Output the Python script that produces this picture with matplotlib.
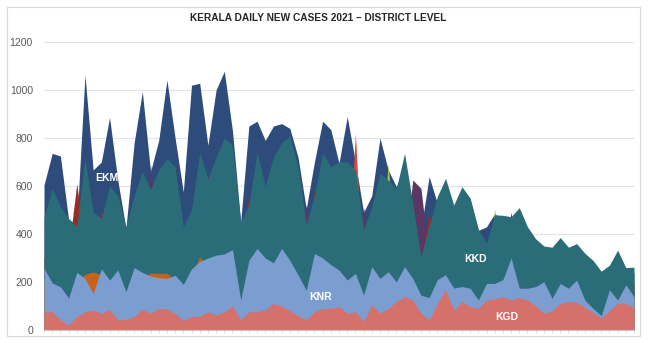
import matplotlib.pyplot as plt
from matplotlib.patches import Rectangle
import numpy as np

OUTPUT_FILE = "out.png"

TITLE = "KERALA DAILY NEW CASES 2021 \u2013 DISTRICT LEVEL"
Y_TICKS = [0, 200, 400, 600, 800, 1000, 1200]

# daily values (73 days), back series first
EKM = [604, 736, 725, 460, 440, 1062, 667, 700, 886, 625, 424, 780, 993, 660, 790, 1042, 800, 575,
       1020, 1028, 770, 1000, 1078, 830, 450, 850, 870, 790, 850, 860, 840, 720, 505, 700, 870, 835,
       695, 889, 700, 490, 560, 800, 667, 597, 690, 500, 420, 639, 528, 600, 515, 590, 545, 415,
       430, 485, 450, 440, 480, 400, 350, 320, 330, 320, 330, 340, 300, 270, 230, 250, 310, 240, 240]
PURPLE = [250, 260, 240, 230, 250, 280, 260, 250, 270, 260, 240, 280, 300, 690, 300, 320, 310, 290,
          300, 330, 320, 310, 330, 340, 300, 320, 330, 310, 320, 330, 320, 300, 520, 330, 340, 320,
          330, 340, 310, 510, 300, 320, 310, 300, 320, 625, 590, 300, 280, 290, 270, 280, 260, 250,
          240, 250, 240, 230, 240, 220, 210, 200, 200, 190, 200, 190, 180, 170, 150, 160, 170, 150, 150]
DARK_RED = [300, 320, 310, 330, 610, 340, 330, 500, 340, 330, 320, 350, 360, 340, 350, 360, 370, 340,
            350, 380, 640, 380, 390, 370, 330, 560, 380, 370, 360, 380, 390, 370, 340, 580, 380, 370,
            360, 380, 340, 360, 370, 350, 340, 360, 350, 290, 280, 490, 330, 320, 310, 320, 300, 290,
            280, 290, 300, 490, 300, 280, 260, 250, 240, 250, 240, 230, 220, 210, 190, 200, 210, 190, 190]
LIME = [210, 230, 220, 200, 210, 250, 230, 220, 240, 230, 210, 240, 250, 240, 250, 260, 250, 220,
        230, 260, 250, 260, 270, 260, 210, 240, 260, 250, 250, 270, 260, 240, 210, 250, 260, 250,
        240, 250, 240, 200, 230, 250, 695, 240, 260, 230, 200, 210, 230, 240, 220, 230, 220, 200,
        190, 505, 210, 200, 210, 190, 180, 170, 170, 180, 170, 170, 160, 150, 140, 150, 160, 140, 140]
RED = [150, 160, 150, 140, 150, 170, 160, 150, 170, 160, 150, 170, 180, 170, 180, 190, 180, 160,
       170, 190, 180, 190, 200, 190, 150, 170, 190, 180, 180, 190, 190, 170, 150, 180, 190, 180,
       170, 180, 820, 150, 160, 180, 170, 160, 180, 160, 140, 150, 160, 170, 150, 160, 150, 140,
       130, 150, 150, 140, 150, 140, 130, 120, 120, 130, 120, 120, 110, 100, 90, 100, 110, 100, 100]
KKD = [470, 590, 515, 465, 430, 715, 490, 465, 600, 560, 430, 560, 660, 585, 667, 715, 680, 430,
       500, 740, 630, 720, 800, 770, 450, 520, 740, 600, 720, 780, 810, 680, 440, 560, 737, 680,
       700, 701, 667, 417, 514, 653, 625, 590, 736, 528, 306, 437, 556, 632, 521, 597, 550, 420,
       360, 480, 478, 472, 510, 430, 380, 350, 345, 385, 345, 360, 320, 290, 245, 270, 333, 260, 262]
ORANGE = [200, 160, 150, 110, 200, 232, 242, 230, 180, 200, 140, 210, 215, 238, 236, 236, 210, 170,
          230, 305, 260, 270, 280, 290, 110, 250, 290, 260, 240, 280, 250, 200, 140, 270, 250, 230,
          210, 180, 200, 120, 220, 180, 200, 170, 220, 180, 120, 110, 170, 190, 150, 150, 140, 100,
          160, 160, 170, 250, 150, 140, 150, 170, 110, 160, 140, 170, 100, 70, 45, 130, 100, 150, 110]
KNR = [258, 196, 180, 133, 240, 215, 152, 255, 208, 250, 160, 260, 240, 225, 218, 215, 228, 190,
       255, 285, 300, 312, 317, 335, 125, 290, 340, 300, 280, 340, 290, 230, 165, 319, 300, 272,
       250, 208, 236, 146, 264, 215, 243, 201, 264, 215, 145, 135, 210, 230, 175, 181, 174, 125,
       194, 194, 210, 300, 174, 174, 181, 201, 132, 194, 174, 208, 125, 90, 60, 167, 125, 188, 139]
KGD = [76, 76, 42, 21, 56, 76, 83, 69, 86, 42, 44, 56, 86, 69, 90, 86, 69, 38,
       56, 58, 76, 62, 76, 100, 42, 76, 76, 83, 111, 100, 80, 60, 42, 76, 90, 90,
       97, 69, 76, 35, 104, 69, 90, 118, 139, 125, 69, 42, 111, 167, 83, 118, 97, 90,
       125, 130, 138, 125, 135, 125, 100, 70, 80, 111, 118, 115, 95, 72, 50, 80, 111, 111, 90]

SERIES = [
    (EKM, "#2D4B7B"),
    (PURPLE, "#593866"),
    (DARK_RED, "#9A2C27"),
    (LIME, "#A9C23F"),
    (RED, "#D9463A"),
    (KKD, "#2A6D79"),
    (ORANGE, "#C8621B"),
    (KNR, "#7B9DCF"),
    (KGD, "#D5706A"),
]

LABELS = [("EKM", 7.7, 633), ("KNR", 33.7, 138), ("KKD", 52.6, 296), ("KGD", 56.5, 54)]


def main():
    n = len(EKM)
    for vals, _ in SERIES:
        assert len(vals) == n, len(vals)
    x = np.arange(n)

    fig = plt.figure(figsize=(6.5, 3.43), dpi=100)
    fig.patches.append(Rectangle((7 / 650, 7 / 343), 633 / 650, 329 / 343, transform=fig.transFigure,
                                 fill=False, edgecolor="#D9D9D9", linewidth=0.8))
    ax = fig.add_axes([44 / 650, 13 / 343, 590 / 650, 288 / 343])

    # overlapping (not stacked) areas, like the Excel area chart
    for vals, color in SERIES:
        ax.fill_between(x, 0, vals, color=color, linewidth=0, zorder=2)

    for name, lx, ly in LABELS:
        ax.text(lx, ly, name, color="white", fontsize=7.5, fontweight="bold",
                family=["Liberation Sans", "DejaVu Sans"], ha="center", va="center", zorder=5)

    ax.set_xlim(0, n - 1)
    ax.set_ylim(0, 1200)
    ax.set_yticks(Y_TICKS)
    ax.set_yticklabels([str(v) for v in Y_TICKS], fontsize=7.5, color="#595959",
                       family=["Liberation Sans", "DejaVu Sans"])
    ax.tick_params(axis="y", length=0, pad=8)
    ax.set_xticks(x)
    ax.set_xticklabels([])
    ax.tick_params(axis="x", length=2, color="#D0D0D0", width=0.5)
    ax.grid(axis="y", color="#E3E3E3", linewidth=0.8, zorder=0)
    ax.set_axisbelow(True)
    for side in ["top", "right", "left"]:
        ax.spines[side].set_visible(False)
    ax.spines["bottom"].set_color("#C8C8C8")
    ax.spines["bottom"].set_linewidth(0.8)

    fig.text(318 / 650, 1 - 18 / 343, TITLE, fontsize=7.3, fontweight="bold", color="#262626",
             family=["Liberation Sans", "DejaVu Sans"], ha="center", va="center")

    fig.savefig(OUTPUT_FILE, dpi=100)


if __name__ == "__main__":
    main()
